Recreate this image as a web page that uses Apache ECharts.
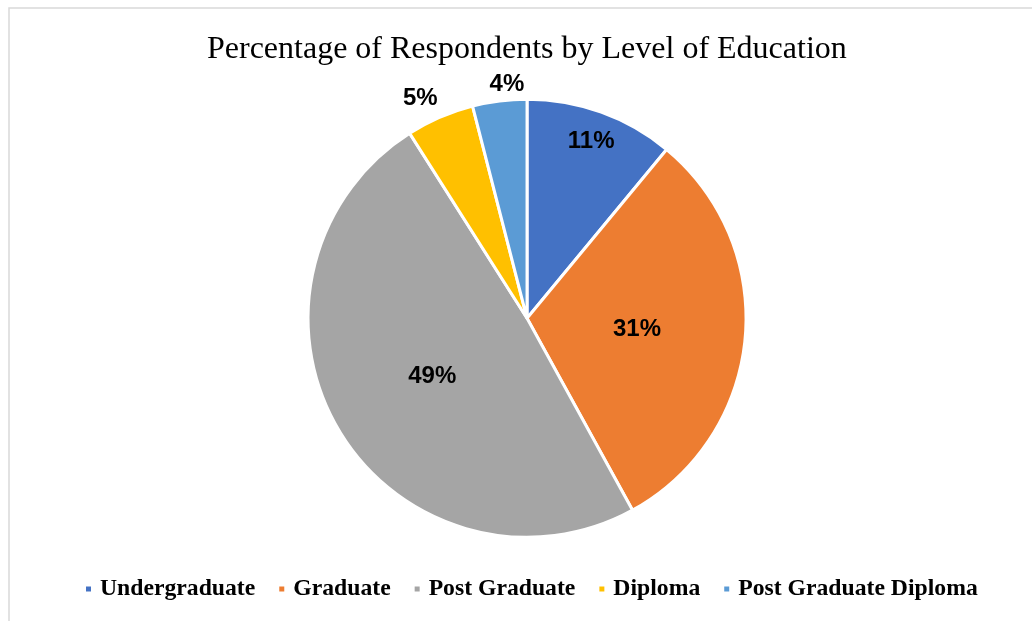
<!DOCTYPE html>
<html>
<head>
<meta charset="utf-8">
<script src="https://cdn.jsdelivr.net/npm/echarts@6/dist/echarts.min.js"></script>
<style>
  html, body { margin: 0; padding: 0; background: #fff; }
  #chart { width: 1032px; height: 621px; }
</style>
</head>
<body>
<div id="chart"></div>
<script>
// Education levels and their share of respondents (%)
const categories = ['Undergraduate', 'Graduate', 'Post Graduate', 'Diploma', 'Post Graduate Diploma'];
const shares = [11, 31, 49, 5, 4];
const colors = ['#4472C4', '#ED7D31', '#A5A5A5', '#FFC000', '#5B9BD5'];

// Label placement per slice: large slices inside, the two small ones just outside the rim
const labelPlacement = [
  { position: 'inside', offset: [26, -71] },
  { position: 'inside', offset: [-2, 1] },
  { position: 'inside', offset: [2, 1] },
  { position: 'inside', offset: [-62, -117] },
  { position: 'inside', offset: [-6, -122] }
];

const chart = echarts.init(document.getElementById('chart'));

const data = categories.map((name, i) => ({
  name: name,
  value: shares[i],
  itemStyle: { color: colors[i] },
  label: labelPlacement[i]
}));

chart.setOption({
  animation: false,
  backgroundColor: '#ffffff',
  graphic: [{
    type: 'rect',
    shape: { x: 9, y: 8, width: 1040, height: 640 },
    style: { fill: 'none', stroke: '#d9d9d9', lineWidth: 1.5 },
    silent: true,
    z: -10
  }],
  title: {
    text: 'Percentage of Respondents by Level of Education',
    left: 202,
    top: 29,
    textStyle: {
      fontFamily: 'Liberation Serif',
      fontWeight: 'normal',
      fontSize: 32,
      color: '#000'
    }
  },
  legend: {
    data: categories,
    bottom: 15,
    left: 79,
    icon: 'rect',
    itemWidth: 7,
    itemHeight: 7,
    itemGap: 22,
    textStyle: {
      fontFamily: 'Liberation Serif',
      fontWeight: 'bold',
      fontSize: 23.7,
      color: '#000',
      padding: [0, 0, 0, 3]
    }
  },
  series: [{
    type: 'pie',
    center: ['51.07%', '51.25%'],
    radius: 219,
    startAngle: 90,
    clockwise: true,
    labelLine: { show: false },
    itemStyle: { borderColor: '#ffffff', borderWidth: 3 },
    label: {
      show: true,
      formatter: '{c}%',
      fontFamily: 'Liberation Sans',
      fontWeight: 'bold',
      fontSize: 24,
      color: '#000'
    },
    emphasis: { disabled: true },
    data: data
  }]
});
</script>
</body>
</html>
